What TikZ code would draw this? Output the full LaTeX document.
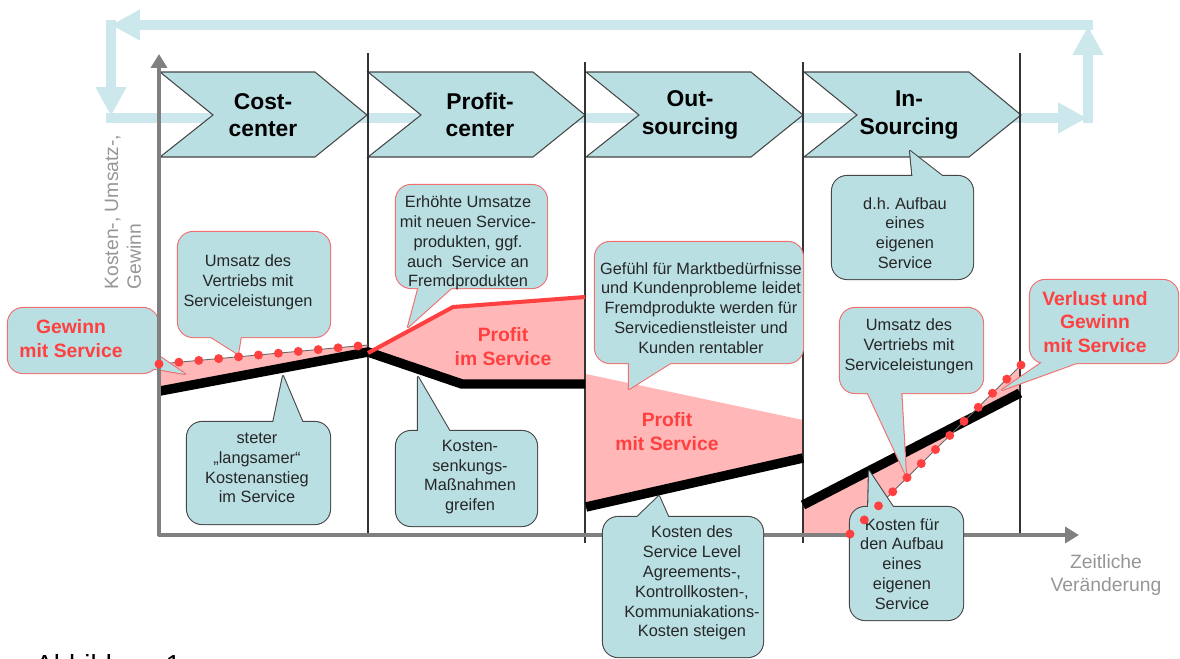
\documentclass[tikz,border=0pt]{standalone}
\usepackage{fontspec}
\setmainfont{Liberation Sans}
\usetikzlibrary{arrows.meta}
\frenchspacing
\definecolor{callfill}{RGB}{185,223,227}
\definecolor{loopc}{RGB}{204,232,236}
\definecolor{pinkc}{RGB}{255,183,183}
\definecolor{redc}{RGB}{255,64,64}
\definecolor{redb}{RGB}{240,110,110}
\definecolor{grayb}{RGB}{70,70,70}
\definecolor{axisc}{RGB}{128,128,128}
\definecolor{labelc}{RGB}{150,150,150}
\newcommand\mycallout[4]{%
  \draw[#1, line width=1.2pt, rounded corners=0.3cm] #2 rectangle #3;
  \draw[#1, line width=1.2pt, line join=round] #4 -- cycle;
  \fill[callfill, rounded corners=0.3cm] #2 rectangle #3;
  \fill[callfill] #4 -- cycle;
}
\newcommand\mychevron[2]{%
  \draw[chev] (#1,72) -- ({#2-52},72) -- (#2,115) -- ({#2-52},157) -- (#1,157) -- ({#1+53},115) -- cycle;
}
\begin{document}
\frenchspacing
\begin{tikzpicture}[x=0.02cm,y=-0.02cm,
  loopline/.style={loopc, line width=0.2cm, -{Triangle[length=0.58cm,width=0.58cm]}},
  chev/.style={fill=callfill, draw=grayb, line width=0.6pt},
  title/.style={font=\fontsize{13}{15.5}\selectfont\bfseries, align=center},
  ctext/.style={font=\fontsize{9.3}{11.3}\selectfont, align=center, text=black!85, inner sep=0pt},
  rtext/.style={font=\fontsize{11}{13.6}\selectfont\bfseries, align=center, text=redc, inner sep=0pt},
  glabel/.style={font=\fontsize{11}{13}\selectfont, text=labelc, inner sep=0pt},
  sep/.style={draw=black!80, line width=0.6pt},
  axisline/.style={draw=axisc, line width=2.3pt, -{Triangle[length=0.28cm,width=0.32cm]}},
  costline/.style={line width=5.4pt, black},
  dotline/.style={black!60, line width=0.5pt},
]
\useasboundingbox (0,0) rectangle (1180,659);

% feedback loop
\draw[loopline] (1093,25) -- (111,25);
\draw[loopline] (111,20) -- (111,116);
\draw[loopline] (106,118) -- (1087,118);
\draw[loopline] (1088,123) -- (1088,26);

% chevrons
\mychevron{160}{367}
\mychevron{368}{585}
\mychevron{586}{803}
\mychevron{804}{1021}
\node[title] (t1) at (263,115) {Cost-\\center};
\node[title] (t2) at (480,115) {Profit-\\center};
\node[title] (t3) at (690,115) {Out-\\sourcing};
\node[title] (t4) at (909,115) {In-\\Sourcing};

% pink areas
\fill[pinkc] (160,364) -- (368,345) -- (368,352) -- (160,391) -- cycle;
\fill[pinkc] (368,353) -- (453,307) -- (585,297) -- (585,384) -- (462,384) -- cycle;
\fill[pinkc] (586,374) -- (803,420) -- (803,458) -- (586,507) -- cycle;
\fill[pinkc] (803,505) -- (963,422) -- (850,535) -- (803,535) -- cycle;
\fill[pinkc] (963,422) -- (1021,365) -- (1021,393) -- cycle;

% separators
\draw[sep] (368,53) -- (368,536);
\draw[sep] (585,62) -- (585,543);
\draw[sep] (803,62) -- (803,543);
\draw[sep] (1020,53) -- (1020,536);

% x axis
\draw[axisline] (158,535) -- (1079,535);

% cost / revenue lines
\draw[costline] (160,391) -- (368,352) -- (462,384) -- (585,384);
\draw[costline] (586,507) -- (803,458);
\draw[costline] (803,505) -- (1020,393);
\draw[redc, line width=2.3pt] (368,353) -- (453,307) -- (585,297);
\draw[dotline] (159,364) -- (368,345);
\draw[dotline] (850,534) -- (1021,365);

% callouts
\mycallout{redb}{(8,308)}{(158,373)}{(150,350) -- (185,374) -- (150,368)}
\node[rtext] (c1) at (71,339) {Gewinn\\mit Service};

\mycallout{redb}{(178,232)}{(330,337)}{(200,330) -- (238,354) -- (242,330)}
\node[ctext] (c2) at (248,282) {Umsatz des\\Vertriebs mit\\Serviceleistungen};

\mycallout{grayb}{(187,422)}{(330,524)}{(272,428) -- (283,376) -- (305,428)}
\node[ctext] (c3) at (257,468) {steter\\„langsamer“\\Kostenanstieg\\im Service};

\mycallout{redb}{(396,185)}{(547,288)}{(420,282) -- (408,327) -- (458,282)}
\node[ctext] (c4) at (468,243) {Erhöhte Umsatze\\mit neuen Service-\\produkten, ggf.\\auch~ Service an\\Fremdprodukten};

\mycallout{grayb}{(396,431)}{(537,526)}{(418,437) -- (418,377) -- (453,437)}
\node[ctext] (c5) at (470,477) {Kosten-\\senkungs-\\Maßnahmen\\greifen};

\mycallout{redb}{(595,242)}{(803,363)}{(629,357) -- (629,389) -- (680,357)}
\node[ctext] (c6) at (701,308) {Gefühl für Marktbedürfnisse\\und Kundenprobleme leidet\\Fremdprodukte werden für\\Servicedienstleister und\\Kunden rentabler};

\node[rtext] (p1) at (503,347) {Profit\\im Service};
\node[rtext] (p2) at (667,432) {Profit\\mit Service};

\mycallout{grayb}{(603,517)}{(763,657)}{(631,523) -- (659,496) -- (671,523)}
\node[ctext] (c7) at (692,583) {Kosten des\\Service Level\\Agreements-,\\Kontrollkosten-,\\Kommuniakations-\\Kosten steigen};

\mycallout{grayb}{(832,176)}{(973,279)}{(913,182) -- (910,151) -- (950,182)}
\node[ctext] (c8) at (905,233) {d.h. Aufbau\\eines\\eigenen\\Service};

\mycallout{redb}{(840,308)}{(983,393)}{(865,387) -- (906,475) -- (901,387)}
\node[ctext] (c9) at (909,346) {Umsatz des\\Vertriebs mit\\Serviceleistungen};

\mycallout{redb}{(1030,280)}{(1178,363)}{(1050,357) -- (1002,390) -- (1093,357)}
\node[rtext] (c10) at (1095,322) {Verlust und\\Gewinn\\mit Service};

\mycallout{grayb}{(850,507)}{(963,620)}{(868,513) -- (869,471) -- (897,513)}
\node[ctext] (c11) at (902,564) {Kosten für\\den Aufbau\\eines\\eigenen\\Service};

% y axis
\draw[axisline] (159,536) -- (159,54);

% red dots
\foreach \i in {0,...,10} \fill[redc] ({159+19.9*\i},{364-1.8*\i}) circle[radius=0.09cm];
\foreach \i in {0,...,12} \fill[redc] ({850+14.25*\i},{534-14.08*\i}) circle[radius=0.09cm];

% axis labels
\node[glabel, rotate=90, align=left] (ylab) at (123,212) {Kosten-, Umsatz-,\\Gewinn};
\node[glabel, align=center] (xlab) at (1106,575) {Zeitliche\\Veränderung};
\node[font=\fontsize{15.7}{18}\selectfont, anchor=base west, inner sep=0pt] (cap) at (35,674) {Abbildung 1};
\end{tikzpicture}
\end{document}
